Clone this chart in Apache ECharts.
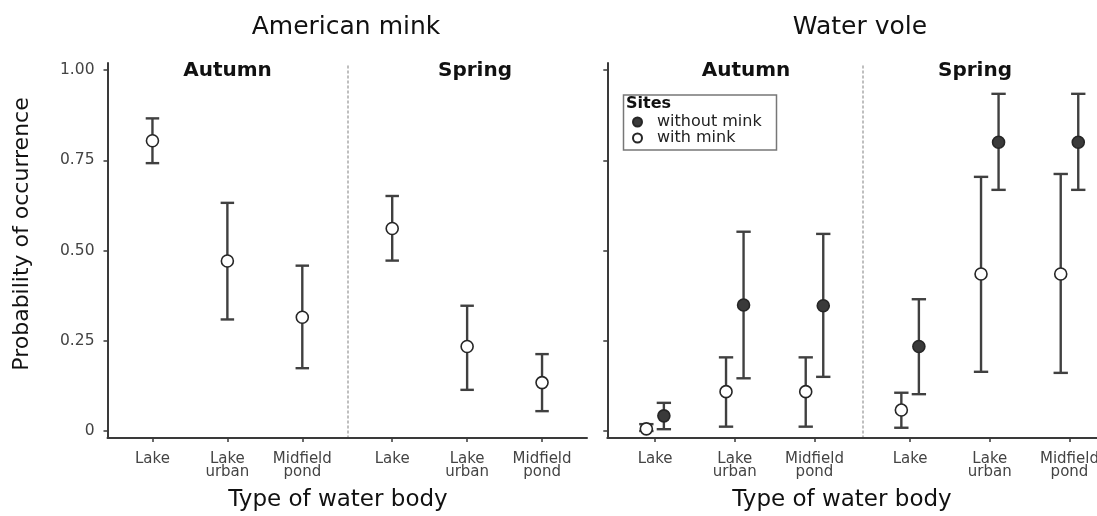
<!DOCTYPE html>
<html>
<head>
<meta charset="utf-8">
<script src="https://cdn.jsdelivr.net/npm/echarts@6/dist/echarts.min.js"></script>
<style>html,body{margin:0;padding:0;background:#fff;}#c{width:1097px;height:516px;}</style>
</head>
<body>
<div id="c"></div>
<script>
// ---- data ----
const categories = ['Lake', 'Lake\nurban', 'Midfield\npond'];
const seasons = ['Autumn', 'Spring'];
const species = ['American mink', 'Water vole'];
const yTicks = [0, 0.25, 0.5, 0.75, 1];
const yTickLabels = ['0', '0.25', '0.50', '0.75', '1.00'];
const siteGroups = ['without mink', 'with mink'];

// American mink (sites with mink)
const minkAutumnMean = [0.804, 0.471, 0.315];
const minkAutumnLow  = [0.742, 0.309, 0.174];
const minkAutumnHigh = [0.866, 0.632, 0.458];
const minkSpringMean = [0.561, 0.234, 0.134];
const minkSpringLow  = [0.472, 0.114, 0.055];
const minkSpringHigh = [0.651, 0.347, 0.213];

// Water vole
const voleAutumnWithMean    = [0.006, 0.109, 0.109];
const voleAutumnWithLow     = [0.000, 0.012, 0.012];
const voleAutumnWithHigh    = [0.019, 0.204, 0.204];
const voleAutumnWithoutMean = [0.042, 0.349, 0.347];
const voleAutumnWithoutLow  = [0.005, 0.146, 0.150];
const voleAutumnWithoutHigh = [0.078, 0.552, 0.546];
const voleSpringWithMean    = [0.058, 0.435, 0.435];
const voleSpringWithLow     = [0.009, 0.164, 0.161];
const voleSpringWithHigh    = [0.106, 0.704, 0.712];
const voleSpringWithoutMean = [0.234, 0.800, 0.800];
const voleSpringWithoutLow  = [0.102, 0.668, 0.668];
const voleSpringWithoutHigh = [0.365, 0.934, 0.934];

// ---- layout ----
const FONT = 'DejaVu Sans';
const TOP = 63, H = 375;
// the last facet runs past the right edge of the picture (cut off as in the original)
const grids = [
  {left: 107.5, top: TOP, width: 239.75, height: H, outerBoundsMode: 'none'},
  {left: 347.25, top: TOP, width: 239.75, height: H, outerBoundsMode: 'none'},
  {left: 607.3, top: TOP, width: 255, height: H, outerBoundsMode: 'none'},
  {left: 862.3, top: TOP, width: 255, height: H, outerBoundsMode: 'none'}
];
const DODGE = 0.11, CAP = 0.09;
const catPos = categories.map((c, i) => i + 1);

function errSeries(gi, mean, low, high, off) {
  return {
    type: 'custom', xAxisIndex: gi, yAxisIndex: gi, z: 2, silent: true,
    data: mean.map((m, i) => [catPos[i] + off, low[i], high[i]]),
    renderItem: function (params, api) {
      const x = api.value(0), lo = api.value(1), hi = api.value(2);
      const a = api.coord([x, hi]), b = api.coord([x, lo]);
      const l1 = api.coord([x - CAP, hi]), r1 = api.coord([x + CAP, hi]);
      const l2 = api.coord([x - CAP, lo]), r2 = api.coord([x + CAP, lo]);
      const st = {stroke: '#404040', lineWidth: 2.4};
      return {type: 'group', children: [
        {type: 'line', shape: {x1: a[0], y1: a[1], x2: b[0], y2: b[1]}, style: st},
        {type: 'line', shape: {x1: l1[0], y1: l1[1], x2: r1[0], y2: r1[1]}, style: st},
        {type: 'line', shape: {x1: l2[0], y1: l2[1], x2: r2[0], y2: r2[1]}, style: st}
      ]};
    }
  };
}
function ptSeries(gi, name, mean, off, filled) {
  return {
    type: 'scatter', name: name, xAxisIndex: gi, yAxisIndex: gi, z: 3,
    symbol: 'circle', symbolSize: 12,
    itemStyle: {color: filled ? '#3a3a3a' : '#ffffff', borderColor: '#262626', borderWidth: 1.6, opacity: 1},
    data: mean.map((m, i) => [catPos[i] + off, m])
  };
}

const series = [
  errSeries(0, minkAutumnMean, minkAutumnLow, minkAutumnHigh, 0),
  ptSeries(0, siteGroups[1], minkAutumnMean, 0, false),
  errSeries(1, minkSpringMean, minkSpringLow, minkSpringHigh, 0),
  ptSeries(1, siteGroups[1], minkSpringMean, 0, false),
  errSeries(2, voleAutumnWithMean, voleAutumnWithLow, voleAutumnWithHigh, -DODGE),
  errSeries(2, voleAutumnWithoutMean, voleAutumnWithoutLow, voleAutumnWithoutHigh, DODGE),
  ptSeries(2, siteGroups[0], voleAutumnWithoutMean, DODGE, true),
  ptSeries(2, siteGroups[1], voleAutumnWithMean, -DODGE, false),
  errSeries(3, voleSpringWithMean, voleSpringWithLow, voleSpringWithHigh, -DODGE),
  errSeries(3, voleSpringWithoutMean, voleSpringWithoutLow, voleSpringWithoutHigh, DODGE),
  ptSeries(3, siteGroups[0], voleSpringWithoutMean, DODGE, true),
  ptSeries(3, siteGroups[1], voleSpringWithMean, -DODGE, false)
];

const xAxes = grids.map((g, i) => ({
  type: 'value', gridIndex: i, min: 0.4, max: 3.6,
  splitLine: {show: false},
  axisLine: {show: true, onZero: false, lineStyle: {color: '#3a3a3a', width: 2}},
  axisTick: {show: true, customValues: catPos, length: 4, lineStyle: {color: '#3a3a3a', width: 1.5}},
  axisLabel: {show: true, customValues: catPos, margin: 15, color: '#444', fontFamily: FONT, fontSize: 15, lineHeight: 13,
    hideOverlap: false, formatter: v => categories[Math.round(v) - 1]}
}));
const yAxes = grids.map((g, i) => {
  const main = (i === 0 || i === 2);
  return {
    type: 'value', gridIndex: i, min: -0.0194, max: 1.0194,
    splitLine: {show: false},
    axisLine: {show: true, onZero: false, lineStyle: main ? {color: '#3a3a3a', width: 2} : {color: '#aaaaaa', width: 1.5, type: [2, 3]}},
    axisTick: {show: main, customValues: yTicks, length: 4, lineStyle: {color: '#3a3a3a', width: 1.5}},
    axisLabel: {show: i === 0, customValues: yTicks, margin: 13, color: '#444', fontFamily: FONT, fontSize: 15.5,
      formatter: v => yTickLabels[yTicks.indexOf(v)]}
  };
});

const facetLabels = [
  {text: seasons[0], x: 227.5}, {text: seasons[1], x: 475},
  {text: seasons[0], x: 746}, {text: seasons[1], x: 975}
];
const titles = [
  {text: species[0], left: 346, top: 15, textAlign: 'center', padding: 0,
    textStyle: {fontFamily: FONT, fontSize: 25, fontWeight: 'normal', color: '#111'}},
  {text: species[1], left: 860, top: 15, textAlign: 'center', padding: 0,
    textStyle: {fontFamily: FONT, fontSize: 25, fontWeight: 'normal', color: '#111'}}
].concat(facetLabels.map(f => ({text: f.text, left: f.x, top: 61, textAlign: 'center', padding: 0,
  textStyle: {fontFamily: FONT, fontSize: 20, fontWeight: 'bold', color: '#111'}})));

const option = {
  backgroundColor: '#ffffff',
  animation: false,
  title: titles,
  grid: grids,
  xAxis: xAxes,
  yAxis: yAxes,
  legend: {
    data: siteGroups, orient: 'vertical', left: 632, top: 114, itemGap: 0,
    itemWidth: 9, itemHeight: 9, icon: 'circle', padding: 0,
    textStyle: {fontFamily: FONT, fontSize: 16, color: '#222', padding: [0, 0, 0, 10]},
    selectedMode: false
  },
  graphic: [
    {type: 'rect', shape: {x: 623.5, y: 95, width: 153, height: 55}, z: 10,
      style: {fill: 'rgba(255,255,255,0)', stroke: '#777', lineWidth: 1.5}},
    {type: 'text', left: 626, top: 96, z: 10,
      style: {text: 'Sites', font: 'bold 16px "DejaVu Sans"', fill: '#111'}},
    {type: 'text', x: 22, y: 234, rotation: Math.PI / 2, z: 10,
      style: {text: 'Probability of occurrence', font: '22px "DejaVu Sans"', fill: '#111', align: 'center', verticalAlign: 'middle'}},
    {type: 'text', x: 338, y: 500, z: 10,
      style: {text: 'Type of water body', font: '23px "DejaVu Sans"', fill: '#111', align: 'center', verticalAlign: 'middle'}},
    {type: 'text', x: 842, y: 500, z: 10,
      style: {text: 'Type of water body', font: '23px "DejaVu Sans"', fill: '#111', align: 'center', verticalAlign: 'middle'}}
  ],
  series: series
};
const chart = echarts.init(document.getElementById('c'), null, {renderer: 'canvas'});
chart.setOption(option);
</script>
</body>
</html>
